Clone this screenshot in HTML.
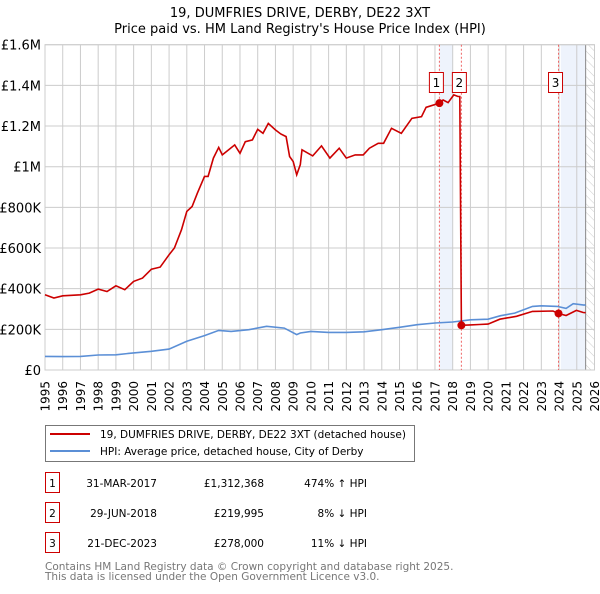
<!DOCTYPE html>
<html><head><meta charset="utf-8"><style>
body{margin:0;background:#fff;font-family:"DejaVu Sans","Liberation Sans",sans-serif;}
svg text{font-family:"DejaVu Sans","Liberation Sans",sans-serif;}
</style></head><body>
<svg id="c" width="600" height="590" xmlns="http://www.w3.org/2000/svg">
<defs><pattern id="hatch" width="6" height="6" patternUnits="userSpaceOnUse" patternTransform="rotate(-45)"><line x1="0" y1="0" x2="0" y2="6" stroke="#ccc" stroke-width="1"/></pattern></defs>
<text x="300" y="17" text-anchor="middle" font-size="13">19, DUMFRIES DRIVE, DERBY, DE22 3XT</text>
<text x="300" y="33" text-anchor="middle" font-size="13">Price paid vs. HM Land Registry's House Price Index (HPI)</text>
<g id="plot"></g>
<g>
<rect x="45.5" y="425.5" width="369" height="36" fill="#fff" stroke="#777"/>
<line x1="50" y1="434" x2="90" y2="434" stroke="#cc0000" stroke-width="2"/>
<text x="100" y="438" font-size="10.5">19, DUMFRIES DRIVE, DERBY, DE22 3XT (detached house)</text>
<line x1="50" y1="451" x2="90" y2="451" stroke="#5b8fd6" stroke-width="2"/>
<text x="100" y="455" font-size="10.5">HPI: Average price, detached house, City of Derby</text>
</g>
<g id="table" font-size="10.5"></g>
<text x="45" y="570" font-size="10.5" fill="#777">Contains HM Land Registry data © Crown copyright and database right 2025.</text>
<text x="45" y="580" font-size="10.5" fill="#777">This data is licensed under the Open Government Licence v3.0.</text>
</svg>
<script>
const yTicks=[0,200000,400000,600000,800000,1000000,1200000,1400000,1600000];
const yTickLabels=["£0","£200K","£400K","£600K","£800K","£1M","£1.2M","£1.4M","£1.6M"];
const years=[1995,1996,1997,1998,1999,2000,2001,2002,2003,2004,2005,2006,2007,2008,2009,2010,2011,2012,2013,2014,2015,2016,2017,2018,2019,2020,2021,2022,2023,2024,2025,2026];
const redT=[1995,1995.5,1996,1997,1997.5,1998,1998.5,1999,1999.5,2000,2000.5,2001,2001.5,2002,2002.3,2002.7,2003,2003.3,2003.6,2004,2004.2,2004.5,2004.8,2005,2005.3,2005.7,2006,2006.3,2006.7,2007,2007.3,2007.6,2008,2008.3,2008.6,2008.8,2009,2009.2,2009.4,2009.5,2010.1,2010.6,2011.07,2011.6,2012,2012.5,2012.95,2013.3,2013.8,2014.1,2014.55,2015.1,2015.7,2016.24,2016.5,2017.25,2017.46,2017.74,2018.06,2018.3,2018.4,2018.49,2019,2019.5,2020,2020.66,2021.6,2022.5,2023.66,2023.97,2024.4,2024.98,2025.36,2025.5];
const redV=[370000,354000,365000,370000,378000,398000,386000,414000,395000,436000,452000,496000,506000,567000,600000,690000,780000,804000,870000,952000,952000,1042000,1095000,1058000,1079000,1107000,1066000,1123000,1132000,1184000,1164000,1213000,1181000,1161000,1148000,1050000,1025000,960000,1010000,1083000,1053000,1102000,1042000,1091000,1042000,1058000,1058000,1091000,1115000,1115000,1189000,1164000,1238000,1246000,1292000,1312368,1328000,1315000,1353000,1345000,1345000,219995,222000,224000,226000,250000,264000,288000,290000,278000,268000,293000,283000,282000];
const hpiT=[1995,1996,1997,1998,1999,2000,2001,2002,2003,2004,2004.8,2005.5,2006.5,2007.5,2008.5,2009.2,2009.4,2010,2011,2012,2013,2014,2015,2016,2017,2018,2019,2020,2020.7,2021.5,2022.5,2023,2023.9,2024.4,2024.8,2025.4,2025.5];
const hpiV=[67000,66000,67000,74000,75000,84000,92000,103000,141000,169000,195000,190000,198000,215000,206000,174000,182000,190000,185000,185000,188000,198000,210000,223000,231000,236000,247000,250000,267000,280000,313000,316000,313000,303000,326000,319000,320000];
const saleT=[2017.25,2018.49,2023.97];
const saleV=[1312368,219995,278000];
const saleDates=["31-MAR-2017","29-JUN-2018","21-DEC-2023"];
const salePrices=["£1,312,368","£219,995","£278,000"];
const saleHpi=["474% ↑ HPI","8% ↓ HPI","11% ↓ HPI"];

const NS="http://www.w3.org/2000/svg";
const X0=45,X1=594.5,Y0=370,Y1=44.7;
const xs=t=>X0+(t-1995)/(2026-1995)*(X1-X0);
const ys=v=>Y0-v/1600000*(Y0-Y1);
const plot=document.getElementById('plot');
function mk(tag,attrs,parent){const e=document.createElementNS(NS,tag);for(const k in attrs)e.setAttribute(k,attrs[k]);(parent||plot).appendChild(e);return e;}
let s1=mk('rect',{x:xs(saleT[0]),y:Y1,width:xs(2018.0)-xs(saleT[0]),height:Y0-Y1,fill:'#eef3fc'});


let s2=mk('rect',{x:xs(2024.1),y:Y1,width:xs(2025.5)-xs(2024.1),height:Y0-Y1,fill:'#eef3fc'});


let hz=mk('rect',{x:xs(2025.5),y:Y1,width:X1-xs(2025.5),height:Y0-Y1,fill:'url(#hatch)'});


years.forEach(y=>{let l=mk('line',{x1:xs(y),x2:xs(y),y1:Y1,y2:Y0,stroke:'#ccc','stroke-width':1});


let t=mk('text',{x:0,y:0,'font-size':12,'text-anchor':'end',transform:`translate(${xs(y)+4.5},381) rotate(-90)`});
t.textContent=y;

});
yTicks.forEach((v,i)=>{let l=mk('line',{x1:X0,x2:X1,y1:ys(v),y2:ys(v),stroke:'#ccc','stroke-width':1});


let t=mk('text',{x:41,y:ys(v)+5,'font-size':13,'text-anchor':'end'});
t.textContent=yTickLabels[i];

});
let fl=mk('line',{x1:xs(2025.5),x2:xs(2025.5),y1:Y1,y2:Y0,stroke:'#888','stroke-width':1});


let fr=mk('rect',{x:X0,y:Y1,width:X1-X0,height:Y0-Y1,fill:'none',stroke:'#ccc'});


saleT.forEach((t,i)=>{let l=mk('line',{x1:xs(t),x2:xs(t),y1:Y1,y2:Y0,stroke:'#e66','stroke-width':1,'stroke-dasharray':'2,2'});

});
const pts=(T,V)=>T.map((t,i)=>xs(t).toFixed(1)+','+ys(V[i]).toFixed(1)).join(' ');
let hp=mk('polyline',{points:pts(hpiT,hpiV),fill:'none',stroke:'#5b8fd6','stroke-width':1.6});


let rp=mk('polyline',{points:pts(redT,redV),fill:'none',stroke:'#cc0000','stroke-width':1.6});


saleT.forEach((t,i)=>{let c=mk('circle',{cx:xs(t),cy:ys(saleV[i]),r:4,fill:'#cc0000'});


let bx=i==1?xs(t)-9:xs(t)-10;
let g=mk('g',{});


mk('rect',{x:bx,y:72.5,width:14,height:20,fill:'#fff',stroke:'#cc0000'},g);
let tx=mk('text',{x:bx+7,y:87,'font-size':12,'text-anchor':'middle'},g);tx.textContent=i+1;});
const tb=document.getElementById('table');
saleT.forEach((t,i)=>{const y=483+30*i;
let g=mk('g',{},tb);


mk('rect',{x:45.5,y:y-10.5,width:14,height:20,fill:'#fff',stroke:'#cc0000'},g);
let a=mk('text',{x:52.5,y:y+4,'text-anchor':'middle'},g);a.textContent=i+1;
let b=mk('text',{x:157,y:y+4,'text-anchor':'end'},g);b.textContent=saleDates[i];
let c=mk('text',{x:264,y:y+4,'text-anchor':'end'},g);c.textContent=salePrices[i];
let d=mk('text',{x:367,y:y+4,'text-anchor':'end'},g);d.textContent=saleHpi[i];});
</script>
</body></html>
